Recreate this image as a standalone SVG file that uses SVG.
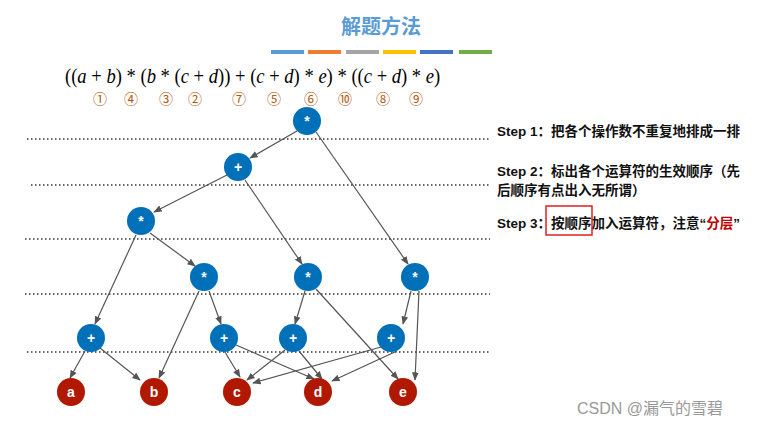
<svg xmlns="http://www.w3.org/2000/svg" width="763" height="427" viewBox="0 0 763 427">
<style>
.dot{stroke:#333;stroke-width:1.5;stroke-dasharray:1.5 2.5}
.e{stroke:#555;stroke-width:1.2;fill:none;marker-end:url(#ah)}
.op{fill:#0070b8}
.lf{fill:#b01800}
.nt{font-family:"Liberation Sans",Arial,sans-serif;font-weight:bold;font-size:14px;fill:#fff;text-anchor:middle}
.cn{font-family:"Noto Sans CJK SC","DejaVu Sans",sans-serif;font-size:14px;fill:#b05a10;text-anchor:middle}
.st{font-family:"Liberation Sans","Noto Sans CJK SC",sans-serif;font-weight:bold;font-size:13.5px;fill:#111}
.fm{font-family:"Liberation Serif",serif;font-size:21px;fill:#000}
.i{font-style:italic}
</style>
<defs><marker id="ah" viewBox="0 0 10 10" refX="9" refY="5" markerWidth="7" markerHeight="7" orient="auto"><path d="M0,1 L10,5 L0,9 z" fill="#555"/></marker></defs>
<rect width="763" height="427" fill="#fff"/>
<text x="381" y="34" font-family="'Noto Sans CJK SC',sans-serif" font-weight="bold" font-size="20" fill="#5b9bd5" text-anchor="middle">解题方法</text>
<g>
<rect x="271" y="50" width="33" height="4" fill="#5b9bd5"/>
<rect x="308" y="50" width="33" height="4" fill="#ed7d31"/>
<rect x="346" y="50" width="33" height="4" fill="#a5a5a5"/>
<rect x="383" y="50" width="33" height="4" fill="#ffc000"/>
<rect x="420" y="50" width="33" height="4" fill="#4472c4"/>
<rect x="459" y="50" width="33" height="4" fill="#70ad47"/>
</g>
<text class="fm" transform="translate(65,83) scale(0.885,1)">((<tspan class="i">a</tspan> + <tspan class="i">b</tspan>) * (<tspan class="i">b</tspan> * (<tspan class="i">c</tspan> + <tspan class="i">d</tspan>)) + (<tspan class="i">c</tspan> + <tspan class="i">d</tspan>) * <tspan class="i">e</tspan>) * ((<tspan class="i">c</tspan> + <tspan class="i">d</tspan>) * <tspan class="i">e</tspan>)</text>
<g>
<text class="cn" x="100" y="104">①</text><text class="cn" x="131" y="104">④</text><text class="cn" x="166" y="104">③</text><text class="cn" x="195" y="104">②</text><text class="cn" x="239" y="104">⑦</text><text class="cn" x="274" y="104">⑤</text><text class="cn" x="311" y="104">⑥</text><text class="cn" x="345" y="104">⑩</text><text class="cn" x="383" y="104">⑧</text><text class="cn" x="416" y="104">⑨</text>
</g>
<g>
<line class="dot" x1="27" y1="139" x2="490" y2="139"/>
<line class="dot" x1="31" y1="185" x2="490" y2="185"/>
<line class="dot" x1="25" y1="239" x2="490" y2="239"/>
<line class="dot" x1="25" y1="294" x2="490" y2="294"/>
<line class="dot" x1="27" y1="352" x2="490" y2="352"/>
</g>
<g id="connectors">
<line class="e" x1="297" y1="131" x2="250" y2="158"/>
<line class="e" x1="316" y1="132" x2="408" y2="264"/>
<line class="e" x1="227" y1="175" x2="154" y2="212"/>
<line class="e" x1="245" y1="180" x2="302" y2="264"/>
<line class="e" x1="136" y1="235" x2="95" y2="324"/>
<line class="e" x1="150" y1="233" x2="195" y2="266"/>
<line class="e" x1="199" y1="291" x2="159" y2="378"/>
<line class="e" x1="209" y1="291" x2="221" y2="324"/>
<line class="e" x1="305" y1="291" x2="295" y2="324"/>
<line class="e" x1="316" y1="289" x2="398" y2="379"/>
<line class="e" x1="411" y1="291" x2="403" y2="324"/>
<line class="e" x1="419" y1="291" x2="415" y2="380"/>
<line class="e" x1="85" y1="351" x2="70" y2="378"/>
<line class="e" x1="100" y1="348" x2="140" y2="380"/>
<line class="e" x1="225" y1="352" x2="240" y2="377"/>
<line class="e" x1="236" y1="345" x2="314" y2="379"/>
<line class="e" x1="285" y1="350" x2="247" y2="380"/>
<line class="e" x1="299" y1="351" x2="322" y2="379"/>
<line class="e" x1="381" y1="347" x2="253" y2="383"/>
<line class="e" x1="397" y1="351" x2="332" y2="381"/>
</g>
<g id="n_root"><circle class="op" cx="307" cy="121" r="14"/><text class="nt" x="307" y="126">*</text></g>
<g id="n_p1"><circle class="op" cx="238" cy="167" r="14"/><text class="nt" x="238" y="172">+</text></g>
<g id="n_m1"><circle class="op" cx="141" cy="221" r="14"/><text class="nt" x="141" y="226">*</text></g>
<g id="n_m2"><circle class="op" cx="204" cy="277" r="14"/><text class="nt" x="204" y="282">*</text></g>
<g id="n_m3"><circle class="op" cx="308" cy="277" r="14"/><text class="nt" x="308" y="282">*</text></g>
<g id="n_m4"><circle class="op" cx="415" cy="277" r="14"/><text class="nt" x="415" y="282">*</text></g>
<g id="n_p2"><circle class="op" cx="91" cy="338" r="14"/><text class="nt" x="91" y="343">+</text></g>
<g id="n_p3"><circle class="op" cx="224" cy="338" r="14"/><text class="nt" x="224" y="343">+</text></g>
<g id="n_p4"><circle class="op" cx="293" cy="338" r="14"/><text class="nt" x="293" y="343">+</text></g>
<g id="n_p5"><circle class="op" cx="391" cy="338" r="14"/><text class="nt" x="391" y="343">+</text></g>
<g id="n_a"><circle class="lf" cx="71" cy="392" r="14"/><text class="nt" x="71" y="397">a</text></g>
<g id="n_b"><circle class="lf" cx="154" cy="392" r="14"/><text class="nt" x="154" y="397">b</text></g>
<g id="n_c"><circle class="lf" cx="237" cy="392" r="14"/><text class="nt" x="237" y="397">c</text></g>
<g id="n_d"><circle class="lf" cx="318" cy="392" r="14"/><text class="nt" x="318" y="397">d</text></g>
<g id="n_e"><circle class="lf" cx="403" cy="392" r="14"/><text class="nt" x="403" y="397">e</text></g>
<g id="steps">
<text class="st" x="497" y="136">Step 1：把各个操作数不重复地排成一排</text>
<text class="st" x="497" y="176">Step 2：标出各个运算符的生效顺序（先</text>
<text class="st" x="497" y="195">后顺序有点出入无所谓）</text>
<text class="st" x="497" y="228">Step 3：按顺序加入运算符，注意“<tspan fill="#c00000">分层</tspan>”</text>
<rect x="546" y="206" width="46" height="29" fill="none" stroke="#e02020" stroke-width="1.5"/>
</g>
<text x="577" y="414" font-family="'Liberation Sans','Noto Sans CJK SC',sans-serif" font-size="16" fill="#999">CSDN @漏气的雪碧</text>
</svg>
